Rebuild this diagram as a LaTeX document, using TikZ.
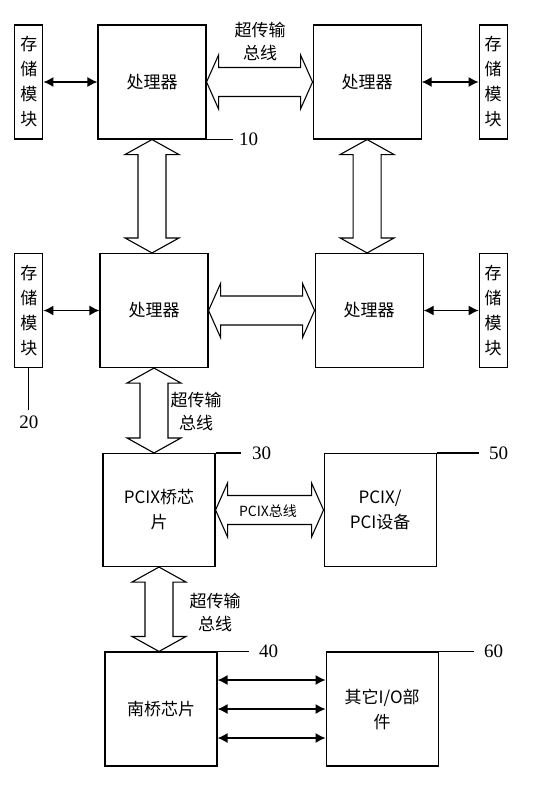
\documentclass[tikz,border=0pt]{standalone}
\usepackage{fontspec}
\newfontfamily\cjk{Noto Sans CJK SC}
\newfontfamily\numfont{Liberation Serif}
\usetikzlibrary{positioning,calc,arrows.meta}

% hollow double bus arrow, horizontal: left tip #1, right tip #2
\newcommand{\fatbush}[2]{%
  \coordinate (ba) at (#1); \coordinate (bb) at (#2);
  \draw[bus] (ba) -- ++(12,-27) -- ++(0,12.5) -- ($(bb)+(-12,-14.5)$) -- ++(0,-12.5) -- (bb)
    -- ++(-12,27) -- ++(0,-12.5) -- ($(ba)+(12,14.5)$) -- ++(0,12.5) -- cycle;}
% hollow double bus arrow, vertical: top tip #1, bottom tip #2
\newcommand{\fatbusv}[2]{%
  \coordinate (ba) at (#1); \coordinate (bb) at (#2);
  \draw[bus] (ba) -- ++(-27,15) -- ++(13,0) -- ($(bb)+(-14,-15)$) -- ++(-13,0) -- (bb)
    -- ++(27,-15) -- ++(-13,0) -- ($(ba)+(14,15)$) -- ++(13,0) -- cycle;}

\begin{document}
\begin{tikzpicture}[
  x=1pt, y=-1pt,
  font=\cjk\fontsize{17}{25}\selectfont,
  box/.style={draw, line width=1.1pt, minimum width=108pt, minimum height=114pt, align=center, inner sep=2pt},
  chip/.style={box, minimum width=112pt, minimum height=113pt},
  mem/.style={draw, line width=1.1pt, minimum width=28pt, minimum height=114pt, align=center, inner sep=2pt},
  link/.style={line width=1.3pt, {Latex[length=10pt,width=10pt]}-{Latex[length=10pt,width=10pt]}},
  bus/.style={draw, line width=1.1pt, fill=white},
  buslabel/.style={align=center, font=\cjk\fontsize{17}{23}\selectfont},
  num/.style={right, inner sep=2pt, font=\numfont\fontsize{19}{21}\selectfont}
]
\useasboundingbox (0,0) rectangle (536,790);

% Processors
\node[box] (p1) at (152,82) {处理器};
\node[box, right=106pt of p1] (p2) {处理器};
\node[box] (p3) at (154,310.5) {处理器};
\node[box, right=106pt of p3] (p4) {处理器};

% Memory modules
\node[mem, left=54pt of p1] (mem1) {存\\储\\模\\块};
\node[mem, right=57pt of p2] (mem2) {存\\储\\模\\块};
\node[mem, left=56pt of p3] (mem3) {存\\储\\模\\块};
\node[mem, right=55pt of p4] (mem4) {存\\储\\模\\块};

% PCIX bridge, PCIX/PCI devices
\node[chip] (bridge) at (159,510) {PCIX桥芯\\片};
\node[chip, right=108pt of bridge] (pcidev) {PCIX/\\PCI设备};

% South bridge, other I/O
\node[chip, minimum height=114pt] (south) at (161,709) {南桥芯片};
\node[chip, minimum height=114pt, right=108pt of south] (io) {其它I/O部\\件};

% Memory links
\draw[link] (mem1.east) -- (p1.west);
\draw[link] (p2.east) -- (mem2.west);
\draw[link] (mem3.east) -- (p3.west);
\draw[link] (p4.east) -- (mem4.west);
\foreach \dy in {29,0,-29}
  \draw[link] ([yshift=\dy pt]south.east) -- ([yshift=\dy pt]io.west);

% Buses
\fatbush{p1.east}{p1.east -| p2.west}
\fatbush{p3.east}{p3.east -| p4.west}
\fatbush{bridge.east}{bridge.east -| pcidev.west}
\fatbusv{p1.south}{p1.south |- p3.north}
\fatbusv{p2.south}{p2.south |- p4.north}
\fatbusv{p3.south}{p3.south |- bridge.north}
\fatbusv{bridge.south}{bridge.south |- south.north}

% Bus labels
\node[buslabel] (lbl1) at (260,41.5) {超传输\\总线};
\node[buslabel] (lbl2) at (196,411.5) {超传输\\总线};
\node[buslabel] (lbl3) at (215,612.5) {超传输\\总线};
\node[font=\cjk\fontsize{14}{16}\selectfont] (lbl4) at (268,511) {PCIX总线};

% Reference numbers
\draw[line width=1.1pt] (p1.south east) -- ++(26,0) node[num, xshift=4pt] (n10) {10};
\draw[line width=1.1pt] (mem3.south) -- ++(0,42) node[num, below, yshift=-3pt] (n20) {20};
\draw[line width=1.1pt] (bridge.north east) -- ++(25,0) node[num, xshift=9pt] (n30) {30};
\draw[line width=1.1pt] (south.north east) -- ++(31,0) node[num, xshift=8pt] (n40) {40};
\draw[line width=1.1pt] (pcidev.north east) -- ++(42,0) node[num, xshift=8pt] (n50) {50};
\draw[line width=1.1pt] (io.north east) -- ++(35,0) node[num, xshift=8pt] (n60) {60};

\end{tikzpicture}
\end{document}
